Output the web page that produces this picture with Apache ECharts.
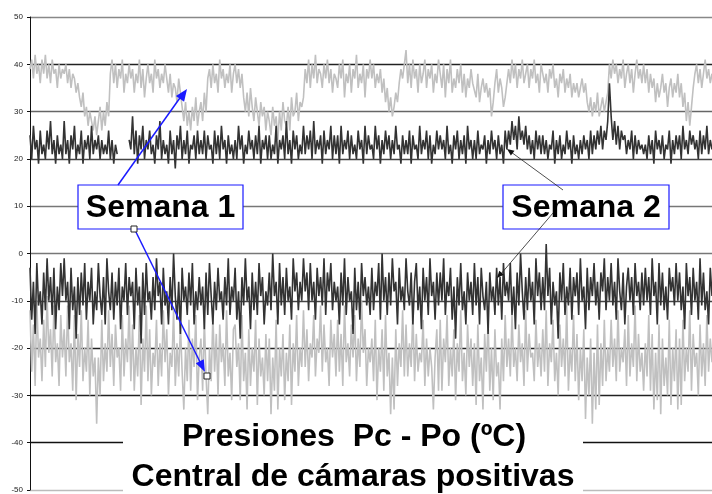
<!DOCTYPE html>
<html>
<head>
<meta charset="utf-8">
<script src="https://cdn.jsdelivr.net/npm/echarts@6/dist/echarts.min.js"></script>
<style>
    html, body { margin: 0; padding: 0; background: #fff; }
    #chart { width: 712px; height: 494px; }
</style>
</head>
<body>
<div id="chart"></div>
<script>
(function () {
    'use strict';

    // valores (ºC), 400 muestras por serie
    var semana1Alta = [
        39, 41, 37, 42, 38, 40, 36, 41, 38, 42, 37, 40, 36, 41, 38, 39, 35, 40, 37, 39,
        38, 40, 36, 39, 35, 38, 37, 34, 36, 33, 31, 34, 29, 31, 27, 30, 28, 26, 29, 25,
        28, 31, 26, 30, 27, 32, 29, 38, 41, 36, 40, 35, 39, 37, 41, 34, 38, 36, 40, 37,
        39, 34, 38, 36, 41, 35, 39, 33, 37, 40, 36, 38, 34, 41, 37, 39, 35, 38, 36, 40,
        37, 34, 38, 33, 36, 35, 32, 37, 34, 31, 28, 32, 27, 30, 26, 31, 28, 33, 27, 30,
        32, 28, 34, 30, 37, 39, 35, 40, 36, 38, 34, 41, 37, 39, 35, 38, 36, 40, 34, 38,
        40, 36, 39, 35, 38, 33, 30, 34, 29, 35, 31, 28, 33, 30, 27, 32, 29, 31, 26, 30,
        28, 25, 31, 27, 29, 24, 30, 26, 32, 28, 27, 31, 26, 33, 29, 30, 34, 28, 32, 31,
        33, 39, 36, 41, 35, 40, 37, 42, 36, 39, 38, 35, 40, 37, 41, 36, 39, 34, 38, 37,
        35, 40, 37, 41, 33, 38, 36, 40, 34, 39, 37, 42, 35, 38, 36, 40, 33, 39, 37, 41,
        37, 40, 35, 38, 36, 39, 34, 37, 32, 35, 30, 33, 29, 31, 34, 32, 36, 39, 37, 40,
        43, 36, 40, 35, 41, 37, 39, 34, 40, 36, 38, 41, 35, 39, 37, 40, 34, 38, 36, 41,
        38, 35, 40, 33, 39, 36, 41, 34, 37, 35, 39, 36, 40, 34, 38, 33, 37, 35, 39, 36,
        36, 33, 38, 32, 35, 37, 34, 36, 33, 35, 29, 32, 36, 39, 34, 37, 35, 31, 33, 36,
        39, 36, 41, 37, 40, 35, 39, 37, 41, 36, 38, 40, 35, 39, 37, 41, 36, 38, 34, 40,
        40, 36, 38, 34, 39, 37, 40, 35, 37, 33, 38, 36, 39, 34, 37, 35, 38, 33, 36, 34,
        36, 33, 35, 37, 34, 36, 32, 30, 33, 29, 32, 30, 34, 29, 31, 33, 30, 32, 34, 40,
        37, 41, 38, 40, 36, 39, 37, 41, 35, 38, 40, 36, 39, 34, 38, 41, 37, 39, 36, 40,
        36, 39, 34, 38, 35, 37, 32, 36, 33, 35, 38, 34, 36, 31, 35, 37, 33, 36, 34, 38,
        33, 36, 31, 34, 28, 32, 27, 31, 35, 38, 40, 36, 39, 35, 38, 41, 37, 39, 36, 38
    ];

    var semana2Alta = [
        25, 20, 27, 22, 24, 19, 26, 21, 23, 20, 26, 22, 28, 21, 24, 19, 25, 21, 23, 20,
        28, 21, 24, 19, 25, 22, 27, 20, 23, 21, 26, 19, 24, 22, 25, 20, 27, 21, 24, 22,
        25, 20, 24, 21, 23, 21, 26, 20, 24, 19, 23, 21, null, null, null, null, null, null, 24, 22,
        29, 21, 26, 19, 25, 22, 27, 20, 24, 22, 26, 21, 23, 19, 25, 22, 28, 20, 24, 21,
        23, 19, 26, 21, 24, 18, 25, 22, 27, 20, 24, 21, 26, 19, 23, 22, 25, 20, 26, 21,
        24, 21, 26, 20, 25, 22, 23, 19, 26, 21, 25, 20, 27, 22, 24, 19, 25, 21, 23, 20,
        24, 20, 27, 22, 25, 19, 23, 21, 26, 22, 24, 20, 25, 21, 27, 19, 24, 22, 25, 20,
        25, 20, 23, 21, 27, 19, 24, 22, 25, 20, 28, 21, 24, 19, 26, 22, 25, 20, 23, 21,
        27, 21, 25, 22, 26, 20, 28, 21, 24, 22, 25, 19, 26, 21, 24, 22, 27, 20, 25, 21,
        25, 19, 27, 21, 24, 22, 26, 20, 25, 21, 23, 20, 26, 22, 24, 19, 27, 21, 25, 22,
        23, 20, 27, 22, 25, 19, 24, 21, 26, 22, 25, 20, 24, 21, 27, 22, 23, 19, 25, 21,
        24, 21, 26, 19, 25, 22, 23, 20, 27, 21, 24, 22, 26, 20, 25, 19, 23, 21, 26, 22,
        25, 22, 24, 20, 27, 21, 23, 19, 25, 22, 26, 20, 24, 21, 25, 19, 27, 22, 24, 20,
        24, 20, 26, 21, 23, 22, 25, 19, 24, 21, 26, 22, 24, 20, 25, 21, 23, 19, 26, 22,
        26, 23, 28, 24, 27, 22, 29, 24, 26, 23, 27, 22, 25, 21, 24, 20, 26, 22, 25, 21,
        25, 21, 24, 20, 23, 22, 26, 19, 24, 21, 25, 20, 23, 21, 26, 22, 24, 19, 25, 21,
        23, 20, 24, 21, 25, 22, 24, 20, 26, 21, 25, 22, 26, 23, 27, 22, 26, 24, 28, 36,
        29, 24, 28, 23, 27, 22, 26, 24, 25, 21, 24, 22, 26, 20, 25, 21, 24, 22, 23, 21,
        23, 20, 25, 21, 24, 19, 26, 22, 24, 21, 25, 20, 23, 22, 26, 19, 24, 21, 25, 22,
        25, 20, 27, 22, 24, 21, 26, 23, 25, 22, 24, 20, 26, 21, 25, 22, 27, 21, 24, 22
    ];

    var semana1Baja = [
        -12, -25, -15, -28, -10, -22, -18, -27, -14, -24, -9, -21, -16, -26, -11, -23, -19, -28, -13, -22,
        -16, -26, -11, -23, -19, -29, -13, -31, -17, -24, -12, -27, -20, -25, -14, -30, -18, -26, -22, -36,
        -22, -30, -14, -27, -19, -25, -12, -24, -17, -28, -15, -22, -20, -29, -13, -26, -18, -23, -11, -27,
        -15, -29, -20, -26, -13, -32, -18, -25, -11, -27, -16, -30, -21, -24, -14, -28, -19, -26, -12, -23,
        -16, -30, -21, -24, -12, -28, -19, -26, -15, -25, -33, -20, -27, -14, -29, -18, -24, -13, -31, -22,
        -18, -29, -14, -26, -34, -20, -27, -13, -25, -17, -30, -15, -23, -19, -28, -12, -26, -21, -31, -16,
        -15, -24, -19, -31, -13, -27, -21, -33, -16, -28, -20, -25, -14, -32, -18, -26, -22, -30, -17, -27,
        -18, -34, -22, -29, -14, -33, -20, -26, -17, -31, -21, -27, -15, -32, -19, -25, -13, -28, -20, -24,
        -12, -24, -16, -27, -19, -22, -13, -26, -18, -21, -11, -25, -15, -23, -20, -28, -14, -22, -17, -26,
        -14, -25, -17, -28, -11, -23, -19, -26, -15, -22, -13, -27, -18, -24, -10, -21, -16, -28, -20, -23,
        -18, -27, -14, -31, -20, -25, -16, -29, -13, -26, -21, -34, -22, -33, -16, -28, -19, -24, -12, -26,
        -15, -26, -19, -24, -12, -27, -17, -25, -21, -23, -14, -28, -18, -26, -20, -24, -33, -22, -16, -29,
        -14, -29, -18, -23, -13, -28, -20, -26, -16, -31, -19, -25, -12, -27, -21, -30, -15, -24, -18, -28,
        -19, -32, -15, -27, -22, -33, -17, -25, -14, -29, -20, -31, -16, -26, -23, -33, -18, -27, -13, -24,
        -18, -26, -13, -24, -20, -27, -15, -23, -19, -28, -12, -25, -17, -22, -21, -27, -14, -24, -19, -26,
        -16, -25, -12, -28, -19, -23, -14, -27, -21, -30, -15, -24, -18, -26, -11, -29, -20, -25, -13, -27,
        -17, -31, -20, -27, -16, -35, -22, -30, -18, -36, -21, -33, -15, -32, -19, -28, -14, -27, -20, -25,
        -14, -24, -18, -27, -12, -25, -20, -23, -16, -28, -13, -26, -19, -24, -11, -27, -17, -25, -21, -29,
        -19, -26, -13, -29, -17, -33, -21, -31, -15, -34, -18, -28, -22, -30, -14, -32, -20, -27, -16, -33,
        -18, -32, -14, -27, -20, -25, -12, -29, -17, -24, -21, -30, -15, -26, -19, -28, -13, -25, -18, -23
    ];

    var semana2Baja = [
        -3, -14, -6, -17, -2, -11, -8, -15, -4, -12, -1, -10, -5, -13, -3, -16, -7, -12, -2, -9,
        -1, -10, -6, -16, -3, -12, -7, -18, -5, -13, -4, -11, -2, -14, -6, -10, -3, -15, -8, -12,
        -2, -9, -13, -5, -15, -1, -8, -12, -4, -14, -6, -11, -3, -16, -7, -10, -2, -13, -5, -9,
        -6, -16, -3, -11, -7, -19, -4, -13, -2, -10, -8, -14, -5, -12, -1, -9, -6, -15, -3, -11,
        -8, -15, -5, -12, 0, -9, -14, -6, -17, -3, -10, -7, -13, -4, -11, -2, -15, -8, -12, -5,
        -11, -7, -16, -4, -13, -2, -9, -15, -6, -12, -3, -10, -8, -14, -5, -11, -1, -13, -7, -10,
        -3, -14, -8, -18, -5, -11, -1, -10, -7, -16, -4, -12, -6, -13, -2, -9, -5, -15, -8, -11,
        -4, -12, 0, -9, -6, -15, -2, -11, -5, -13, -3, -10, -7, -14, -1, -8, -4, -12, -6, -10,
        -1, -8, -4, -12, -2, -10, -6, -14, -3, -9, -5, -11, -1, -13, -4, -8, -2, -12, -6, -10,
        -7, -15, -4, -11, -1, -13, -5, -10, -8, -17, -3, -12, -6, -14, -2, -9, -5, -11, -7, -13,
        -3, -12, -6, -9, -2, -14, 0, -10, -5, -13, -4, -11, -1, -8, -6, -15, -3, -10, -7, -12,
        -1, -8, -11, -4, -15, -6, -2, -12, -7, -16, -3, -10, -5, -13, -1, -9, -6, -14, -4, -11,
        -4, -10, -1, -13, -6, -9, -3, -14, -7, -18, -5, -11, -2, -12, -8, -15, -4, -10, -6, -13,
        -2, -11, -5, -15, -3, -9, -12, -6, -17, -4, -10, -7, -13, -3, -11, -5, -14, -2, -9, -6,
        -10, -2, -13, -7, -16, -4, -11, 0, -8, -14, -5, -12, -3, -10, -6, -15, -1, -9, -4, -12,
        -5, -12, 2, -9, -3, -15, -6, -11, -8, -18, -4, -10, -2, -13, -7, -11, -3, -14, -5, -9,
        -4, -13, -1, -10, -7, -16, -3, -12, -5, -9, -2, -11, -6, -14, -4, -8, -1, -12, -5, -10,
        -2, -11, -6, -14, -1, -8, -12, -4, -15, -7, -3, -10, -5, -13, -2, -9, -6, -12, -4, -11,
        -3, -10, -5, -13, -1, -9, -6, -15, -2, -11, -4, -12, -7, -14, -3, -8, -5, -11, -2, -10,
        -4, -12, -7, -16, -2, -9, -5, -13, -3, -10, -6, -14, -1, -11, -4, -12, -8, -15, -3, -9
    ];

    var yMin = -50;
    var yMax = 50;
    var yPaso = 10;

    var tituloLinea1 = 'Presiones  Pc - Po (ºC)';
    var tituloLinea2 = 'Central de cámaras positivas';

    var muestras = semana1Alta.map(function (v, i) { return i; });

    var FONT = '"Liberation Sans", Arial, sans-serif';
    var AZUL = '#1a1aff';
    var GRIS = '#c0c0c0';
    var OSCURO = '#333333';

    // colores de las lineas de division, de -50 a 50
    var gridColors = ['#bbbbbb', '#111111', '#222222', '#222222', '#444444',
        '#777777', '#777777', '#444444', '#666666', '#222222', '#888888'];

    function serie(name, data, color) {
        return {
            name: name,
            type: 'line',
            data: data,
            showSymbol: false,
            symbol: 'none',
            connectNulls: false,
            silent: true,
            lineStyle: { color: color, width: 1.6 }
        };
    }

    function caja(x, y, w, h, label) {
        return [
            {
                type: 'rect', z: 20,
                shape: { x: x, y: y, width: w, height: h },
                style: { fill: '#fff', stroke: AZUL, lineWidth: 1.2 }
            },
            {
                type: 'text', z: 21,
                x: x + w / 2, y: y + h / 2 + 1,
                style: {
                    text: label, fill: '#000', font: 'bold 32px ' + FONT,
                    textAlign: 'center', textVerticalAlign: 'middle'
                }
            }
        ];
    }

    function linea(x1, y1, x2, y2, color, w) {
        return {
            type: 'line', z: 22,
            shape: { x1: x1, y1: y1, x2: x2, y2: y2 },
            style: { stroke: color, lineWidth: w }
        };
    }

    function punta(points, color) {
        return {
            type: 'polygon', z: 23,
            shape: { points: points },
            style: { fill: color }
        };
    }

    function cuadrito(cx, cy) {
        return {
            type: 'rect', z: 24,
            shape: { x: cx - 3, y: cy - 3, width: 6, height: 6 },
            style: { fill: '#fff', stroke: '#222', lineWidth: 1 }
        };
    }

    var graficos = [
        {
            type: 'rect', z: 1,
            shape: { x: 123, y: 419, width: 460, height: 75 },
            style: { fill: '#fff' }
        },
        {
            type: 'text', z: 5, x: 354, y: 437,
            style: {
                text: tituloLinea1, fill: '#000', font: 'bold 32px ' + FONT,
                textAlign: 'center', textVerticalAlign: 'middle'
            }
        },
        {
            type: 'text', z: 5, x: 353, y: 477,
            style: {
                text: tituloLinea2, fill: '#000', font: 'bold 32px ' + FONT,
                textAlign: 'center', textVerticalAlign: 'middle'
            }
        }
    ];

    graficos = graficos
        .concat(caja(78, 185, 165, 44, 'Semana 1'))
        .concat(caja(503, 185, 166, 44, 'Semana 2'))
        .concat([
            linea(118, 185, 182, 95, AZUL, 1.5),
            punta([[187, 89], [184.1, 101.7], [175.9, 95.9]], AZUL),
            linea(134, 228, 201, 364, AZUL, 1.5),
            punta([[205, 372], [203.8, 359.2], [195.8, 363.2]], AZUL),
            cuadrito(134, 229),
            cuadrito(207, 376),
            linea(563, 190, 511, 152, '#222', 0.8),
            punta([[507, 149], [514.5, 150.7], [510.9, 155.5]], '#111'),
            linea(553, 213, 500, 275, '#222', 0.8),
            punta([[497, 278], [503.9, 274.7], [499.3, 270.7]], '#111')
        ]);

    var chart = echarts.init(document.getElementById('chart'));

    chart.setOption({
        animation: false,
        backgroundColor: '#fff',
        grid: { left: 30, right: 0, top: 17, bottom: 2 },
        xAxis: {
            type: 'category',
            data: muestras,
            boundaryGap: false,
            show: false
        },
        yAxis: {
            type: 'value',
            min: yMin,
            max: yMax,
            interval: yPaso,
            axisLine: { show: true, lineStyle: { color: '#111', width: 1 } },
            axisTick: { show: true, length: 3, lineStyle: { color: '#111' } },
            axisLabel: { color: '#222', fontSize: 8, fontFamily: FONT, margin: 7 },
            splitLine: { show: true, lineStyle: { color: gridColors, width: 1.3 } }
        },
        series: [
            serie('Semana 1 baja', semana1Baja, GRIS),
            serie('Semana 1 alta', semana1Alta, GRIS),
            serie('Semana 2 baja', semana2Baja, OSCURO),
            serie('Semana 2 alta', semana2Alta, OSCURO)
        ],
        graphic: graficos
    });
})();
</script>
</body>
</html>
